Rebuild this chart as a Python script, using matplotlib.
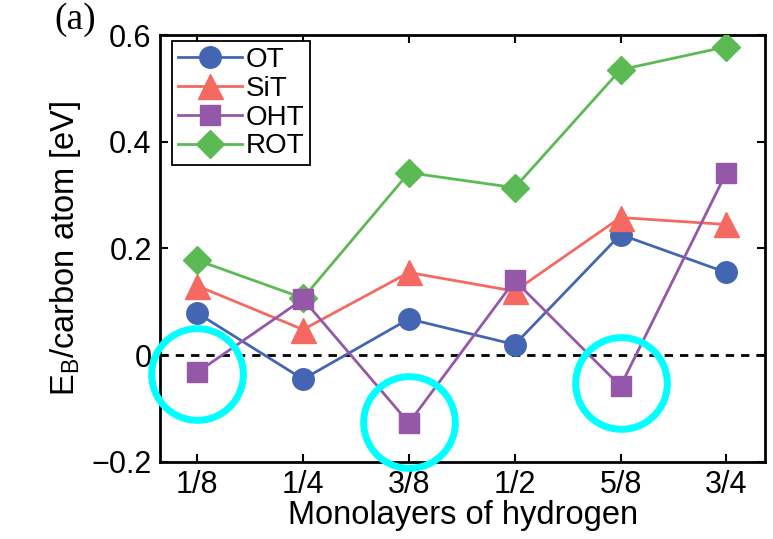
import matplotlib
matplotlib.use("Agg")
import matplotlib.pyplot as plt

plt.rcParams["font.family"] = ["Liberation Sans", "DejaVu Sans"]
plt.rcParams["mathtext.fontset"] = "custom"
plt.rcParams["mathtext.rm"] = "Liberation Sans"

# data
coverage = [1/8, 2/8, 3/8, 4/8, 5/8, 6/8]
tick_labels = ["1/8", "1/4", "3/8", "1/2", "5/8", "3/4"]
ot = [0.079, -0.045, 0.068, 0.020, 0.226, 0.155]
sit = [0.130, 0.048, 0.155, 0.120, 0.258, 0.245]
oht = [-0.032, 0.105, -0.127, 0.140, -0.058, 0.342]
rot = [0.178, 0.107, 0.342, 0.314, 0.535, 0.578]
circled_x = [1/8, 3/8, 5/8]
circled_y = [-0.035, -0.125, -0.053]

C_OT = "#4466b2"
C_SIT = "#f46a62"
C_OHT = "#9558a8"
C_ROT = "#5cba55"

fig = plt.figure(figsize=(7.73, 5.39), dpi=100)
ax = fig.add_axes([0.207, 0.143, 0.783, 0.792])

ax.axhline(0, color="black", lw=2, ls=(0, (3, 2.5)), zorder=1)

ax.plot(coverage, ot, "-o", color=C_OT, lw=2, ms=15.5, label="OT", zorder=3)
ax.plot(coverage, sit, "-^", color=C_SIT, lw=2, ms=18, label="SiT", zorder=3)
ax.plot(coverage, oht, "-s", color=C_OHT, lw=2, ms=14, label="OHT", zorder=4)
ax.plot(coverage, rot, "-D", color=C_ROT, lw=2, ms=14, label="ROT", zorder=3)

ax.plot(circled_x, circled_y, "o", ms=66, mfc="none", mec="#00ffff",
        mew=5, zorder=5, clip_on=False)

ax.set_xlim(0.081, 0.796)
ax.set_ylim(-0.2, 0.6)
ax.set_xticks(coverage)
ax.set_xticklabels(tick_labels)
ax.set_yticks([-0.2, 0, 0.2, 0.4, 0.6])
ax.set_yticklabels(["\u22120.2", "0", "0.2", "0.4", "0.6"])
ax.tick_params(direction="in", top=True, right=True, labelsize=22,
               length=6, width=1.5, pad=6)
for s in ax.spines.values():
    s.set_linewidth(2)

ax.set_xlabel("Monolayers of hydrogen", fontsize=23.5, labelpad=0)
ax.set_ylabel(r"E$_\mathrm{B}$/carbon atom [eV]", fontsize=23.5, labelpad=6)

leg = ax.legend(loc="upper left", fontsize=20, fancybox=False, framealpha=1,
                edgecolor="black", borderpad=0.2, labelspacing=0.1,
                handlelength=2.3, handletextpad=0.15, markerscale=1.0,
                borderaxespad=0, bbox_to_anchor=(0.02, 0.985))
leg.get_frame().set_linewidth(1.3)

fig.text(0.07, 0.995, "(a)", fontsize=27, family="Liberation Serif", va="top")

fig.savefig("out.png", dpi=100, facecolor="white")
